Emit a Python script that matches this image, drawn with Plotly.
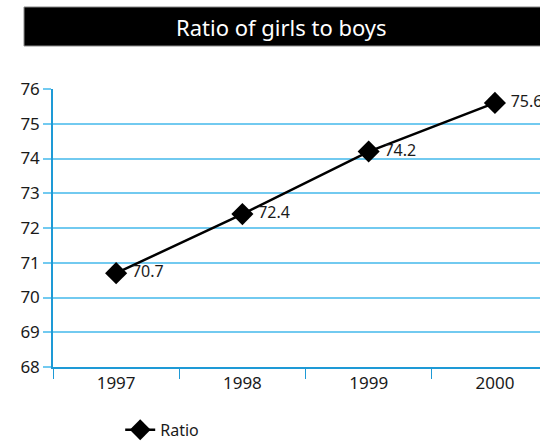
import plotly.graph_objects as go

years = ["1997", "1998", "1999", "2000"]
ratio = [70.7, 72.4, 74.2, 75.6]
y_ticks = [68, 69, 70, 71, 72, 73, 74, 75, 76]

FONT = "Noto Sans"
GRID = "#72caf0"
AXIS = "#1e9ad6"
TXT = "#1a1a1a"

fig = go.Figure()
fig.add_trace(go.Scatter(
    x=years, y=ratio, name="Ratio",
    mode="lines+markers+text",
    line=dict(color="black", width=2.5),
    marker=dict(symbol="diamond", size=17, color="black"),
    text=[" " + str(v) for v in ratio],
    textposition="middle right",
    textfont=dict(family=FONT, size=16, color=TXT),
))

fig.add_shape(type="rect", xref="paper", yref="paper",
              x0=-0.0595, x1=1.02, y0=1.1547, y1=1.295,
              fillcolor="black", line=dict(color="#888", width=1), layer="above")
fig.add_annotation(xref="paper", yref="paper", x=0.470, y=1.223,
                   text="Ratio of girls to boys", showarrow=False,
                   font=dict(family=FONT, size=22, color="white"),
                   xanchor="center", yanchor="middle")

fig.update_layout(
    width=540, height=441,
    margin=dict(l=53, r=0, t=89, b=74, autoexpand=False),
    paper_bgcolor="white", plot_bgcolor="white",
    showlegend=True,
    legend=dict(orientation="h", x=0.138, y=-0.226, xanchor="left", yanchor="middle",
                font=dict(family=FONT, size=16, color=TXT)),
    font=dict(family=FONT, size=16, color=TXT),
)
fig.update_xaxes(type="category", range=[-0.5, 3.357], tickson="boundaries",
                 ticks="outside", ticklen=10, tickcolor=AXIS, tickwidth=1,
                 showline=True, linecolor=AXIS, linewidth=1.5,
                 showgrid=False, tickfont=dict(family=FONT, size=17, color=TXT))
fig.update_yaxes(range=[68, 76], tickvals=y_ticks, ticks="outside", ticklen=8,
                 tickcolor=GRID, tickwidth=1.5,
                 showline=True, linecolor=AXIS, linewidth=1.5,
                 showgrid=True, gridcolor=GRID, gridwidth=1.5, zeroline=False,
                 tickfont=dict(family=FONT, size=17, color=TXT))

fig.write_html(
    "out.html",
    config={"displayModeBar": False},
    post_script="document.body.style.margin='0';document.body.style.overflow='hidden';",
)
